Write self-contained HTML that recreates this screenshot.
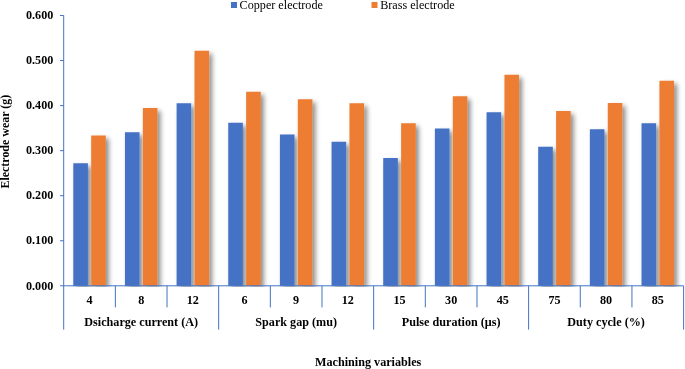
<!DOCTYPE html>
<html><head><meta charset="utf-8"><title>Electrode wear chart</title>
<style>html,body{margin:0;padding:0;background:#fff;}svg{display:block;}text{font-family:"Liberation Serif",serif;fill:#000;}svg{will-change:transform;}</style>
</head><body>
<svg width="685" height="369" viewBox="0 0 685 369">
<defs><filter id="sh" x="-50%" y="-10%" width="250%" height="120%"><feGaussianBlur in="SourceAlpha" stdDeviation="2.4"/><feOffset dx="3.2" dy="3" result="b"/><feComponentTransfer><feFuncA type="linear" slope="0.46"/></feComponentTransfer><feMerge><feMergeNode/><feMergeNode in="SourceGraphic"/></feMerge></filter></defs>
<rect width="685" height="369" fill="#fff"/>
<clipPath id="cp"><rect x="0" y="0" width="685" height="286.70"/></clipPath><g clip-path="url(#cp)"><g filter="url(#sh)">
<rect x="73.28" y="163.25" width="14.6" height="122.55" fill="#4472C4"/>
<rect x="91.18" y="135.50" width="14.6" height="150.30" fill="#ED7D31"/>
<rect x="124.94" y="132.25" width="14.6" height="153.55" fill="#4472C4"/>
<rect x="142.84" y="108.00" width="14.6" height="177.80" fill="#ED7D31"/>
<rect x="176.60" y="103.25" width="14.6" height="182.55" fill="#4472C4"/>
<rect x="194.50" y="50.75" width="14.6" height="235.05" fill="#ED7D31"/>
<rect x="228.25" y="122.75" width="14.6" height="163.05" fill="#4472C4"/>
<rect x="246.15" y="91.75" width="14.6" height="194.05" fill="#ED7D31"/>
<rect x="279.91" y="134.50" width="14.6" height="151.30" fill="#4472C4"/>
<rect x="297.81" y="99.25" width="14.6" height="186.55" fill="#ED7D31"/>
<rect x="331.57" y="141.75" width="14.6" height="144.05" fill="#4472C4"/>
<rect x="349.47" y="103.25" width="14.6" height="182.55" fill="#ED7D31"/>
<rect x="383.23" y="158.00" width="14.6" height="127.80" fill="#4472C4"/>
<rect x="401.13" y="123.25" width="14.6" height="162.55" fill="#ED7D31"/>
<rect x="434.89" y="128.50" width="14.6" height="157.30" fill="#4472C4"/>
<rect x="452.79" y="96.25" width="14.6" height="189.55" fill="#ED7D31"/>
<rect x="486.55" y="112.25" width="14.6" height="173.55" fill="#4472C4"/>
<rect x="504.45" y="74.75" width="14.6" height="211.05" fill="#ED7D31"/>
<rect x="538.20" y="146.75" width="14.6" height="139.05" fill="#4472C4"/>
<rect x="556.10" y="111.00" width="14.6" height="174.80" fill="#ED7D31"/>
<rect x="589.86" y="129.25" width="14.6" height="156.55" fill="#4472C4"/>
<rect x="607.76" y="103.00" width="14.6" height="182.80" fill="#ED7D31"/>
<rect x="641.52" y="123.25" width="14.6" height="162.55" fill="#4472C4"/>
<rect x="659.42" y="80.75" width="14.6" height="205.05" fill="#ED7D31"/>
</g></g>
<g stroke="#4472C4" stroke-width="1" fill="none">
<line x1="63.7" y1="15.4" x2="63.7" y2="329.6"/>
<line x1="60" y1="285.8" x2="683.6" y2="285.8"/>
<line x1="60" y1="240.75" x2="63.7" y2="240.75"/>
<line x1="60" y1="195.70" x2="63.7" y2="195.70"/>
<line x1="60" y1="150.65" x2="63.7" y2="150.65"/>
<line x1="60" y1="105.60" x2="63.7" y2="105.60"/>
<line x1="60" y1="60.55" x2="63.7" y2="60.55"/>
<line x1="60" y1="15.50" x2="63.7" y2="15.50"/>
<line x1="115.36" y1="285.8" x2="115.36" y2="307.4"/>
<line x1="167.02" y1="285.8" x2="167.02" y2="307.4"/>
<line x1="218.68" y1="285.8" x2="218.68" y2="329.6"/>
<line x1="270.33" y1="285.8" x2="270.33" y2="307.4"/>
<line x1="321.99" y1="285.8" x2="321.99" y2="307.4"/>
<line x1="373.65" y1="285.8" x2="373.65" y2="329.6"/>
<line x1="425.31" y1="285.8" x2="425.31" y2="307.4"/>
<line x1="476.97" y1="285.8" x2="476.97" y2="307.4"/>
<line x1="528.62" y1="285.8" x2="528.62" y2="329.6"/>
<line x1="580.28" y1="285.8" x2="580.28" y2="307.4"/>
<line x1="631.94" y1="285.8" x2="631.94" y2="307.4"/>
<line x1="683.60" y1="285.8" x2="683.60" y2="329.6"/>
</g>
<g font-size="12.15" font-weight="bold" text-anchor="end">
<text x="53.3" y="289.60">0.000</text>
<text x="53.3" y="244.45">0.100</text>
<text x="53.3" y="199.30">0.200</text>
<text x="53.3" y="154.15">0.300</text>
<text x="53.3" y="109.00">0.400</text>
<text x="53.3" y="63.85">0.500</text>
<text x="53.3" y="18.70">0.600</text>
</g>
<g font-size="12.15" font-weight="bold" text-anchor="middle">
<text x="89.53" y="303.6">4</text>
<text x="141.19" y="303.6">8</text>
<text x="192.85" y="303.6">12</text>
<text x="244.50" y="303.6">6</text>
<text x="296.16" y="303.6">9</text>
<text x="347.82" y="303.6">12</text>
<text x="399.48" y="303.6">15</text>
<text x="451.14" y="303.6">30</text>
<text x="502.80" y="303.6">45</text>
<text x="554.45" y="303.6">75</text>
<text x="606.11" y="303.6">80</text>
<text x="657.77" y="303.6">85</text>
<text x="141.19" y="326.1">Dsicharge current (A)</text>
<text x="296.16" y="326.1">Spark gap (mu)</text>
<text x="451.14" y="326.1">Pulse duration (μs)</text>
<text x="606.11" y="326.1">Duty cycle (%)</text>
<text x="368.2" y="365.7">Machining variables</text>
<text transform="translate(9.2,141.7) rotate(-90)" font-size="11.95">Electrode wear (g)</text>
</g>
<rect x="231" y="2" width="6" height="6" fill="#4472C4"/>
<text x="239.6" y="8.8" font-size="12.15">Copper electrode</text>
<rect x="371.5" y="2" width="6" height="6" fill="#ED7D31"/>
<text x="380.2" y="8.8" font-size="12.15">Brass electrode</text>
</svg></body></html>
